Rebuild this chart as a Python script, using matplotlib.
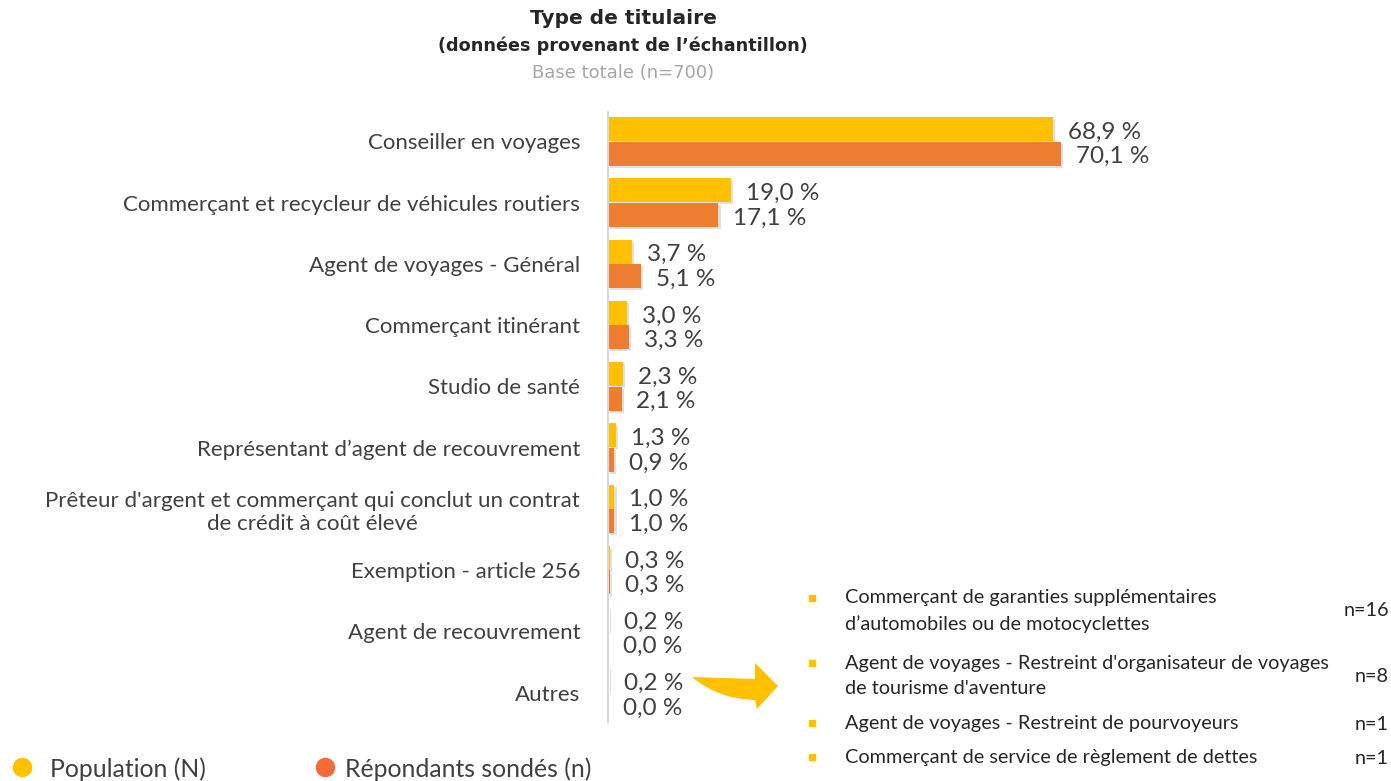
import matplotlib.pyplot as plt
from matplotlib.lines import Line2D
from matplotlib.patches import PathPatch
from matplotlib.path import Path
import matplotlib.patheffects as pe

categories = ["Conseiller en voyages",
              "Commerçant et recycleur de véhicules routiers",
              "Agent de voyages - Général",
              "Commerçant itinérant",
              "Studio de santé",
              "Représentant d’agent de recouvrement",
              "Prêteur d'argent et commerçant qui conclut un contrat\nde crédit à coût élevé",
              "Exemption - article 256",
              "Agent de recouvrement",
              "Autres"]
population = [68.9, 19.0, 3.7, 3.0, 2.3, 1.3, 1.0, 0.3, 0.2, 0.2]
repondants = [70.1, 17.1, 5.1, 3.3, 2.1, 0.9, 1.0, 0.3, 0.0, 0.0]

autres_labels = ["Commerçant de garanties supplémentaires\nd’automobiles ou de motocyclettes",
                 "Agent de voyages - Restreint d'organisateur de voyages\nde tourisme d'aventure",
                 "Agent de voyages - Restreint de pourvoyeurs",
                 "Commerçant de service de règlement de dettes"]
autres_n = ["n=16", "n=8", "n=1", "n=1"]

YEL = "#FFC000"
ORA = "#ED7D31"
TXT = "#404040"
FONT = "Lato"

W, H = 1391, 781
fig = plt.figure(figsize=(W / 100, H / 100), dpi=100)
ax = fig.add_axes([608 / W, 1 - 722 / H, 1 - 608 / W, 610 / H])

shadow = [pe.SimplePatchShadow(offset=(1.5, -1.5), shadow_rgbFace="#999999", alpha=0.3), pe.Normal()]
pos = list(range(len(categories)))
hb = 0.39
ax.barh([p - 0.2 for p in pos], population, height=hb, color=YEL, path_effects=shadow)
ax.barh([p + 0.2 for p in pos], repondants, height=hb, color=ORA, path_effects=shadow)

for p, v in zip(pos, population):
    ax.text(v + 2.3, p - 0.15, f"{v:.1f} %".replace(".", ","), va="center", ha="left",
            fontsize=17.5, color=TXT, family=FONT)
for p, v in zip(pos, repondants):
    ax.text(v + 2.3, p + 0.25, f"{v:.1f} %".replace(".", ","), va="center", ha="left",
            fontsize=17.5, color=TXT, family=FONT)

ax.set_xlim(0, (W - 608) / 6.46)
ax.set_ylim(9.48, -0.48)
ax.set_yticks(pos)
ax.set_yticklabels(categories, fontsize=16, color=TXT, family=FONT, multialignment="center")
ax.tick_params(axis="y", length=0, pad=20)
ax.set_xticks([])
for s in ["top", "right", "bottom"]:
    ax.spines[s].set_visible(False)
ax.spines["left"].set_color("#D9D9D9")
ax.spines["left"].set_linewidth(1.5)

# titre
fig.text(623 / W, 1 - 18 / H, "Type de titulaire", ha="center", va="center",
         fontsize=14.5, fontweight="bold", color="#262626")
fig.text(623 / W, 1 - 46 / H, "(données provenant de l’échantillon)", ha="center", va="center",
         fontsize=12.7, fontweight="bold", color="#262626")
fig.text(623 / W, 1 - 73 / H, "Base totale (n=700)", ha="center", va="center",
         fontsize=13, color="#A6A6A6")

# légende
for x, col, lab, tx in [(22, "#FFC000", "Population (N)", 50), (325, "#F26B38", "Répondants sondés (n)", 345)]:
    fig.add_artist(Line2D([x / W], [1 - 767 / H], marker="o", markersize=13, color=col,
                          transform=fig.transFigure))
    fig.text(tx / W, 1 - 769 / H, lab, ha="left", va="center", fontsize=17.8, color=TXT, family=FONT)

# détail des autres
ys = [611, 676, 724, 758]
for y, lab, n in zip(ys, autres_labels, autres_n):
    by = y - 13 if "\n" in lab else y - 1
    fig.add_artist(Line2D([812 / W], [1 - by / H], marker="s", markersize=5, color=YEL,
                          transform=fig.transFigure))
    fig.text(845 / W, 1 - y / H, lab, ha="left", va="center", fontsize=14.3, color="#262626",
             family=FONT, linespacing=1.55)
    fig.text(1389 / W, 1 - y / H, n, ha="right", va="center", fontsize=14.3, color="#262626", family=FONT)

# flèche courbe
pts = [(692, 677), (755, 679), (755, 663), (778, 686), (757, 709), (755, 700), (718, 699), (692, 677), (692, 677)]
codes = [Path.MOVETO, Path.LINETO, Path.LINETO, Path.LINETO, Path.LINETO, Path.LINETO,
         Path.CURVE3, Path.CURVE3, Path.CLOSEPOLY]
arrow = PathPatch(Path([(x / W, 1 - y / H) for x, y in pts], codes), transform=fig.transFigure,
                  facecolor=YEL, edgecolor="none")
fig.add_artist(arrow)

fig.savefig("out.png", dpi=100)
